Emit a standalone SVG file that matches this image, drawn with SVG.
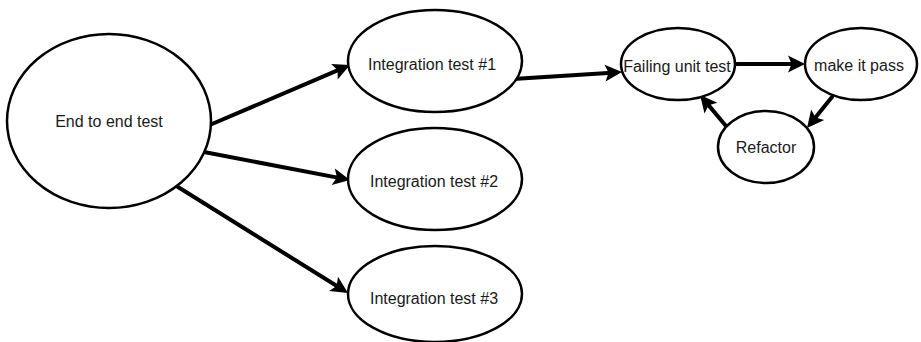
<svg xmlns="http://www.w3.org/2000/svg" width="921" height="342" viewBox="0 0 921 342">
<style>
.node ellipse{fill:#fff;stroke:#000;stroke-width:2.5}
.node text{font-family:"Liberation Sans",Arial,sans-serif;font-size:16px;fill:#1a1a1a;text-anchor:middle;dominant-baseline:central}
.edges line{stroke:#000;stroke-width:4;stroke-linecap:round;marker-end:url(#arr)}
</style>
<defs>
<marker id="arr" markerUnits="strokeWidth" markerWidth="4.25" markerHeight="4.2" refX="2.75" refY="2.1" orient="auto" overflow="visible">
<path d="M0,0 L4.25,2.1 L0,4.2 L0.9,2.1 z" fill="#000"/>
</marker>
</defs>
<rect width="921" height="342" fill="#fff"/>
<g class="edges">
<line x1="212" y1="124" x2="344.5" y2="67.4"/>
<line x1="204" y1="152" x2="344.1" y2="178.9"/>
<line x1="178" y1="187" x2="342.9" y2="289.8"/>
<line x1="513" y1="79" x2="616" y2="72.4"/>
<line x1="735" y1="64" x2="799" y2="64"/>
<line x1="832" y1="97" x2="810.8" y2="123.3"/>
<line x1="726" y1="126" x2="703.9" y2="99.6"/>
</g>
<g id="e2e" class="node"><ellipse cx="109" cy="121" rx="102" ry="87"/><text x="109" y="121">End to end test</text></g>
<g id="it1" class="node"><ellipse cx="435" cy="61" rx="87" ry="51"/><text x="432" y="64">Integration test #1</text></g>
<g id="it2" class="node"><ellipse cx="435" cy="179" rx="87" ry="51"/><text x="434" y="181">Integration test #2</text></g>
<g id="it3" class="node"><ellipse cx="435" cy="294" rx="87" ry="48"/><text x="434" y="298">Integration test #3</text></g>
<g id="fail" class="node"><ellipse cx="678" cy="64" rx="57" ry="36"/><text x="677" y="66">Failing unit test</text></g>
<g id="pass" class="node"><ellipse cx="861" cy="64" rx="56" ry="36"/><text x="859" y="65">make it pass</text></g>
<g id="refactor" class="node"><ellipse cx="766" cy="147" rx="48" ry="36"/><text x="766" y="147">Refactor</text></g>
</svg>
